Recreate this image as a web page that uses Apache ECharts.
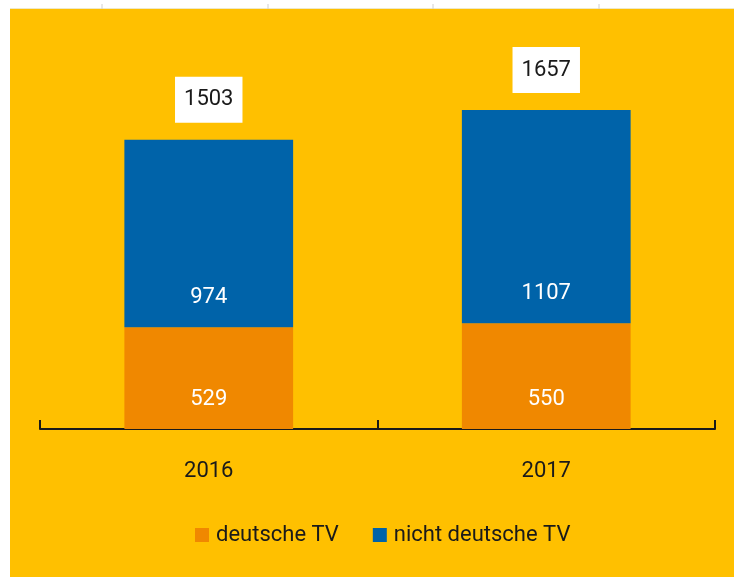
<!DOCTYPE html>
<html>
<head>
<meta charset="utf-8">
<script src="https://cdn.jsdelivr.net/npm/echarts@6/dist/echarts.min.js"></script>
<style>
html,body{margin:0;padding:0;background:#fff;}
#chart{width:734px;height:577px;}
</style>
</head>
<body>
<div id="chart"></div>
<script>
const categories = ['2016', '2017'];
const deutscheTV = [529, 550];
const nichtDeutscheTV = [974, 1107];
const seriesNames = ['deutsche TV', 'nicht deutsche TV'];
const totals = categories.map((c, i) => deutscheTV[i] + nichtDeutscheTV[i]);

const FONT = "Roboto, 'Noto Sans', sans-serif";
const chart = echarts.init(document.getElementById('chart'));

const topTicks = [102, 268, 433, 599].map(x => ({
  type: 'line', z: -9, silent: true,
  shape: {x1: x, y1: 4, x2: x, y2: 9},
  style: {stroke: '#d0d0d0', lineWidth: 1}
}));

chart.setOption({
  backgroundColor: '#ffffff',
  animation: false,
  textStyle: {fontFamily: FONT},
  graphic: [
    {type: 'rect', z: -10, silent: true, shape: {x: 10, y: 9, width: 724, height: 568}, style: {fill: '#FFC000'}},
    {type: 'line', z: -9, silent: true, shape: {x1: 10, y1: 8.5, x2: 734, y2: 8.5}, style: {stroke: '#eee8c8', lineWidth: 1}},
    ...topTicks
  ],
  grid: {left: 40, right: 19, top: 44, bottom: 148, containLabel: false},
  legend: {
    data: seriesNames,
    bottom: 26,
    left: 190,
    itemWidth: 14,
    itemHeight: 14,
    itemGap: 34,
    icon: 'rect',
    textStyle: {fontSize: 22, color: '#1a1a1a', fontFamily: FONT, padding: [0, 0, 0, 2]}
  },
  xAxis: {
    type: 'category',
    data: categories,
    axisLine: {lineStyle: {color: '#1a1a1a', width: 2}},
    axisTick: {show: true, inside: true, length: 9, lineStyle: {color: '#1a1a1a', width: 2}},
    axisLabel: {fontSize: 22, color: '#1a1a1a', margin: 31, fontFamily: FONT}
  },
  yAxis: {
    type: 'value', min: 0, max: 2000, show: false,
    splitLine: {show: false}
  },
  series: [
    {
      name: seriesNames[0], type: 'bar', stack: 'tv', barWidth: '50%',
      data: deutscheTV,
      itemStyle: {color: '#F08800'},
      label: {show: true, position: 'insideBottom', distance: 19, color: '#fff', fontSize: 22, fontFamily: FONT}
    },
    {
      name: seriesNames[1], type: 'bar', stack: 'tv', barWidth: '50%',
      data: nichtDeutscheTV,
      itemStyle: {color: '#0063A9'},
      label: {show: true, position: 'insideBottom', distance: 19, color: '#fff', fontSize: 22, fontFamily: FONT}
    },
    {
      name: 'Gesamt', type: 'scatter', symbolSize: 0,
      data: totals,
      itemStyle: {opacity: 1},
      label: {
        show: true, position: 'top', distance: 17,
        color: '#1a1a1a', fontSize: 22, fontFamily: FONT,
        backgroundColor: '#ffffff', padding: [12, 9, 12, 9]
      },
      z: 5
    }
  ]
});
</script>
</body>
</html>
